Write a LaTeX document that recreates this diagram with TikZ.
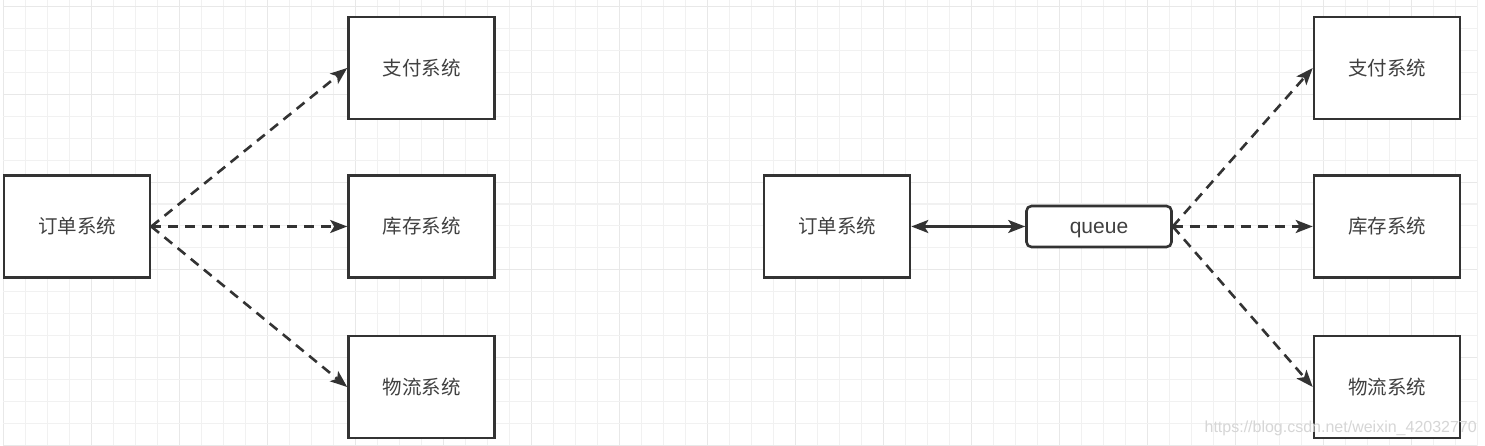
\documentclass[tikz,border=0pt]{standalone}
\usepackage{fontspec}
\setmainfont{Liberation Sans}
\newfontfamily\cjk{Noto Sans CJK SC}
\usetikzlibrary{arrows.meta}
\definecolor{ln}{HTML}{333333}
\definecolor{gridlt}{HTML}{F1F1F1}
\definecolor{griddk}{HTML}{E8E8E8}
\definecolor{txt}{HTML}{404040}
\definecolor{wm}{HTML}{D6D6D6}
\begin{document}
\begin{tikzpicture}[x=1pt,y=-1pt,
  sysbox/.style={draw=ln, line width=2.6pt, fill=white, minimum width=146pt, minimum height=102pt, inner sep=0pt, font=\cjk\fontsize{19.5}{21}\selectfont, text=txt},
  qbox/.style={draw=ln, line width=2.6pt, fill=white, rounded corners=5pt, minimum width=145pt, minimum height=41pt, inner sep=0pt, text height=15pt, text depth=0pt, font=\fontsize{21}{23}\selectfont, text=txt},
  tipped/.style={-{Stealth[length=17pt,width=13pt,inset=4pt]}},
  link/.style={draw=ln, line width=2.6pt, dash pattern=on 10pt off 7pt, tipped},
  duplex/.style={draw=ln, line width=2.6pt, {Stealth[length=17pt,width=13pt,inset=4pt]}-{Stealth[length=17pt,width=13pt,inset=4pt]}},
  gl/.style={draw=gridlt, line width=1.1pt},
  gd/.style={draw=griddk, line width=1.1pt}
]
\useasboundingbox (0,0) rectangle (1485,446);
\fill[white] (0,0) rectangle (1485,446);
% grid
\foreach \k in {0,...,67}{
  \pgfmathsetmacro\xx{3.3+22*\k}
  \pgfmathtruncatemacro\mm{mod(\k,4)}
  \ifnum\mm=0 \draw[gd] (\xx,0) -- (\xx,446); \else \draw[gl] (\xx,0) -- (\xx,446); \fi
}
\foreach \k in {0,...,20}{
  \pgfmathsetmacro\yy{6.7+21.92*\k}
  \pgfmathtruncatemacro\mm{mod(\k,4)}
  \ifnum\mm=0 \draw[gd] (3.3,\yy) -- (1477.3,\yy); \else \draw[gl] (3.3,\yy) -- (1477.3,\yy); \fi
}
% left diagram
\node[sysbox] (lo) at (77,226.5) {订单系统};
\node[sysbox] (lp) at (421.5,68) {支付系统};
\node[sysbox] (ls) at (421.5,226.5) {库存系统};
\node[sysbox] (ll) at (421.5,387) {物流系统};
\draw[link] (lo.east) -- (lp.west);
\draw[link] (lo.east) -- (ls.west);
\draw[link] (lo.east) -- (ll.west);
% right diagram
\node[sysbox] (ro) at (837,226.5) {订单系统};
\node[qbox] (q) at (1099,226.5) {queue};
\node[sysbox] (rp) at (1387,68) {支付系统};
\node[sysbox] (rs) at (1387,226.5) {库存系统};
\node[sysbox] (rl) at (1387,387) {物流系统};
\draw[duplex] (ro.east) -- (q.west);
\draw[link] (q.east) -- (rp.west);
\draw[link] (q.east) -- (rs.west);
\draw[link] (q.east) -- (rl.west);
% watermark
\node[anchor=east, inner sep=0pt, text=wm, font=\fontsize{16}{18}\selectfont] (wmark) at (1477,428) {https://blog.csdn.net/weixin\_42032770};
\end{tikzpicture}
\end{document}
